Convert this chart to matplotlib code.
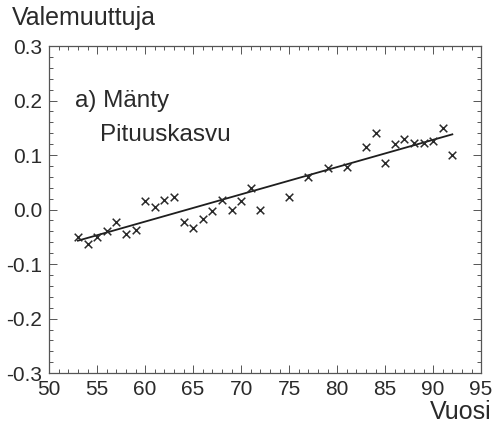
import matplotlib
matplotlib.use('Agg')
import matplotlib.pyplot as plt
from matplotlib.ticker import MultipleLocator

plt.rcParams['font.family'] = ['Liberation Sans', 'DejaVu Sans']

# data
years = [53, 54, 55, 56, 57, 58, 59, 60, 61, 62, 63, 64, 65, 66, 67, 68, 69, 70, 71, 72,
         75, 77, 79, 81, 83, 84, 85, 86, 87, 88, 89, 90, 91, 92]
values = [-0.051, -0.064, -0.050, -0.040, -0.022, -0.044, -0.037, 0.015, 0.004, 0.018,
          0.024, -0.022, -0.033, -0.018, -0.002, 0.018, 0.000, 0.015, 0.040, 0.000,
          0.024, 0.059, 0.077, 0.079, 0.114, 0.140, 0.086, 0.120, 0.130, 0.123,
          0.123, 0.125, 0.149, 0.101]
trend_x = [53, 92]
trend_y = [-0.057, 0.138]

xticks = [50, 55, 60, 65, 70, 75, 80, 85, 90, 95]
yticks = [-0.3, -0.2, -0.1, 0.0, 0.1, 0.2, 0.3]

ink = '#2a2a2a'

fig = plt.figure(figsize=(4.96, 4.26), dpi=100)
ax = fig.add_axes([0.099, 0.124, 0.871, 0.768])

ax.scatter(years, values, marker='x', s=30, c=ink, linewidths=1.1, zorder=3)
ax.plot(trend_x, trend_y, color='#1e1e1e', lw=1.3, zorder=2)

ax.set_xlim(50, 95)
ax.set_ylim(-0.3, 0.3)
ax.set_xticks(xticks)
ax.set_yticks(yticks)
ax.set_yticklabels(['%.1f' % v for v in yticks])
ax.xaxis.set_minor_locator(MultipleLocator(1))
ax.yaxis.set_minor_locator(MultipleLocator(0.02))
ax.tick_params(which='both', direction='in', top=True, right=True, colors='#555555',
               labelcolor=ink, labelsize=15, width=0.7)
ax.tick_params(which='major', length=6, pad=5)
ax.tick_params(which='minor', length=3)
for s in ax.spines.values():
    s.set_color('#555555')
    s.set_linewidth(0.9)

ax.text(0.06, 0.815, 'a) Mänty', transform=ax.transAxes, fontsize=17.5, color=ink)
ax.text(0.117, 0.71, 'Pituuskasvu', transform=ax.transAxes, fontsize=17.5, color=ink)

fig.text(12 / 496, 1 - 18 / 426, 'Valemuuttuja', fontsize=18, color=ink,
         ha='left', va='center')
fig.text(492 / 496, 1 - 412 / 426, 'Vuosi', fontsize=18, color=ink,
         ha='right', va='center')

plt.savefig('out.png', dpi=100)
plt.close()
